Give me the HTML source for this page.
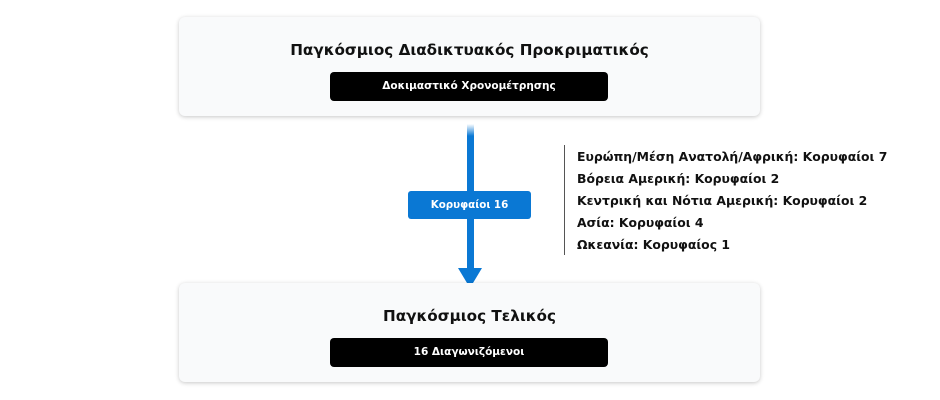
<!DOCTYPE html>
<html><head><meta charset="utf-8"><style>
body{margin:0;width:940px;height:400px;background:#fff;font-family:"Liberation Sans","DejaVu Sans",sans-serif;position:relative;overflow:hidden}
.box{position:absolute;left:179px;width:581px;height:99px;background:#f9fafb;border-radius:6px;box-shadow:0 1px 4px rgba(0,0,0,.22)}
.t{position:absolute;left:0;right:0;text-align:center;font-weight:bold;font-size:15.2px;color:#111;font-family:"DejaVu Sans",sans-serif}
.pill{position:absolute;left:151px;width:278px;height:29px;background:#000;border-radius:4px;color:#fff;font-size:10.5px;font-weight:bold;text-align:center;line-height:29px;font-family:"DejaVu Sans",sans-serif}
.r{position:absolute;left:577px;font-size:12.4px;font-weight:bold;color:#111;font-family:"DejaVu Sans",sans-serif;line-height:16px}
</style></head><body>
<div class="box" style="top:17px"><div class="t" style="top:24px">Παγκόσμιος Διαδικτυακός Προκριματικός</div><div class="pill" style="top:55px">Δοκιμαστικό Χρονομέτρησης</div></div>
<div style="position:absolute;left:467px;top:124px;width:7px;height:148px;background:linear-gradient(#fff,#0a78d4 12px,#0a78d4)"></div>
<svg style="position:absolute;left:456px;top:266px" width="28" height="24"><polygon points="2,2 26,2 14,22" fill="#0a78d4"/></svg>
<div style="position:absolute;left:408px;top:191px;width:123px;height:28px;background:#0a78d4;border-radius:3px;color:#fff;font-size:10.3px;font-weight:bold;text-align:center;line-height:28px;font-family:'DejaVu Sans',sans-serif">Κορυφαίοι 16</div>
<div style="position:absolute;left:564px;top:145px;width:1px;height:110px;background:#555"></div>
<div class="r" style="top:149px">Ευρώπη/Μέση Ανατολή/Αφρική: Κορυφαίοι 7</div>
<div class="r" style="top:171px">Βόρεια Αμερική: Κορυφαίοι 2</div>
<div class="r" style="top:193px">Κεντρική και Νότια Αμερική: Κορυφαίοι 2</div>
<div class="r" style="top:215px">Ασία: Κορυφαίοι 4</div>
<div class="r" style="top:237px">Ωκεανία: Κορυφαίος 1</div>
<div class="box" style="top:283px"><div class="t" style="top:24px">Παγκόσμιος Τελικός</div><div class="pill" style="top:55px">16 Διαγωνιζόμενοι</div></div>
</body></html>
